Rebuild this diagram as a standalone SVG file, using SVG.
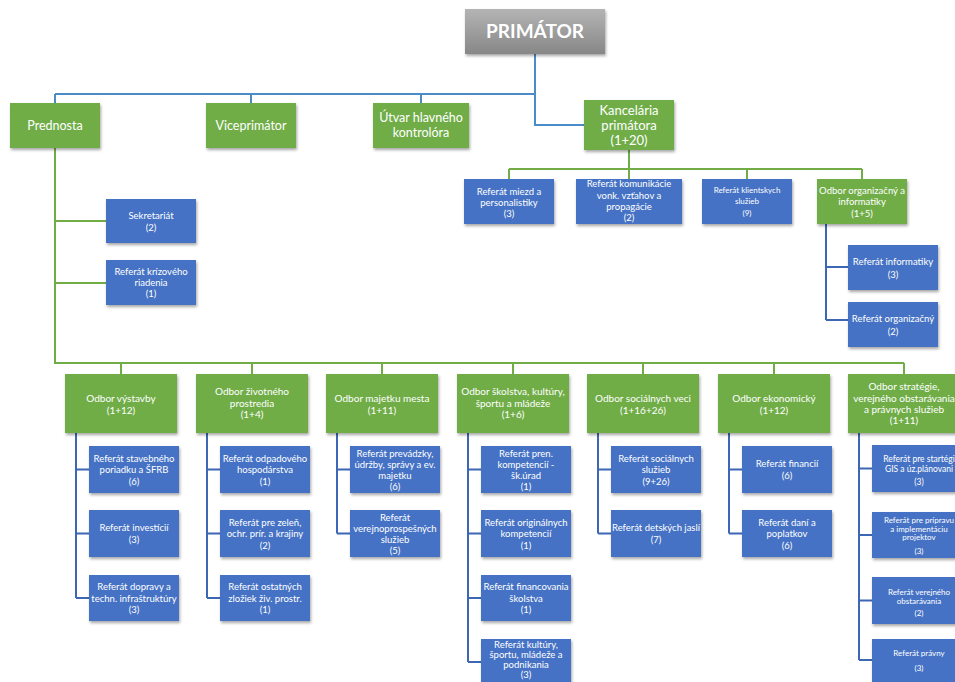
<svg xmlns="http://www.w3.org/2000/svg" width="955" height="682" viewBox="0 0 955 682">
<defs>
<linearGradient id="gray" x1="0" y1="0" x2="0" y2="1">
<stop offset="0" stop-color="#b4b4b4"/><stop offset="1" stop-color="#878787"/>
</linearGradient>
<filter id="sh" x="-10%" y="-10%" width="130%" height="140%">
<feDropShadow dx="1" dy="2" stdDeviation="1.5" flood-color="#000" flood-opacity="0.35"/>
</filter>
</defs>
<style>
.g{fill:#70ad47;filter:url(#sh)}
.b{fill:#4472c4;filter:url(#sh)}
.p{fill:url(#gray);filter:url(#sh)}
text{font-family:Lato,"Open Sans","Liberation Sans",sans-serif;fill:#fff;text-anchor:middle;font-size:9.5px}
.t1{font-size:12.5px}
.t2{font-size:13px}
.t3{font-size:10px}
.t4{font-size:8px}
.t5{font-size:8.5px}
.big{font-size:19px;font-weight:bold}
.cb{stroke:#4a8bc8;stroke-width:2;fill:none}
.cg{stroke:#70ad47;stroke-width:2;fill:none}
.cd{stroke:#3d66b5;stroke-width:2;fill:none}
</style>
<rect width="955" height="682" fill="#fff"/>
<g id="connectors">
<path class="cb" d="M535 54V94M55 94H535M55 94V103M251 94V103M421 94V103M535 94V125H584"/>
<path class="cg" d="M55 148V363H904M55 221H106M55 283H106"/>
<path class="cg" d="M121 363V374M252 363V374M382 363V374M513 363V374M643 363V374M774 363V374M904 363V374"/>
<path class="cg" d="M629 150V169M509 169H862M509 169V179M629 169V179M747 169V179M862 169V179"/>
<path class="cd" d="M826 224V320M826 267H848M826 320H848"/>
<path class="cd" d="M76 433V598M76 469.5H89M76 533.5H89M76 598H89"/>
<path class="cd" d="M207 433V598M207 469.5H220M207 533.5H220M207 598H220"/>
<path class="cd" d="M337 433V533.5M337 469.5H350M337 533.5H350"/>
<path class="cd" d="M468 433V662M468 469.5H481M468 533.5H481M468 598H481M468 662H481"/>
<path class="cd" d="M598 433V533.5M598 469.5H611M598 533.5H611"/>
<path class="cd" d="M729 433V533.5M729 469.5H742M729 533.5H742"/>
<path class="cd" d="M859 433V660M859 468.5H872M859 535H872M859 600.5H872M859 660H872"/>
</g>
<g id="primator"><rect class="p" x="465" y="9" width="140" height="45"/><text class="big" x="535" y="38">PRIMÁTOR</text></g>
<g id="prednosta"><rect class="g" x="10" y="103" width="90" height="45"/><text class="t1" x="55" y="130">Prednosta</text></g>
<g id="viceprimator"><rect class="g" x="206" y="103" width="90" height="45"/><text class="t1" x="251" y="130">Viceprimátor</text></g>
<g id="utvar"><rect class="g" x="373" y="103" width="96" height="45"/><text class="t1" x="421" y="122">Útvar hlavného</text><text class="t1" x="421" y="137">kontrolóra</text></g>
<g id="kancelaria"><rect class="g" x="584" y="100" width="90" height="50"/><text class="t2" x="629" y="115">Kancelária</text><text class="t2" x="629" y="130">primátora</text><text class="t2" x="629" y="145">(1+20)</text></g>
<g id="ref-miezd"><rect class="b" x="464" y="179" width="90" height="45"/><text x="509" y="194.5">Referát miezd a</text><text x="509" y="205.5">personalistiky</text><text x="509" y="216.5">(3)</text></g>
<g id="ref-komunikacie"><rect class="b" x="576" y="179" width="106" height="45"/><text x="629" y="187">Referát komunikácie</text><text x="629" y="198.5">vonk. vzťahov a</text><text x="629" y="210">propagácie</text><text x="629" y="221">(2)</text></g>
<g id="ref-klient"><rect class="b" x="702" y="179" width="90" height="45"/><text class="t4" x="747" y="193">Referát klientskych</text><text class="t4" x="747" y="203.5">služieb</text><text class="t4" x="747" y="216">(9)</text></g>
<g id="odbor-org"><rect class="g" x="817" y="179" width="90" height="45"/><text x="862" y="193.5">Odbor organizačný a</text><text x="862" y="205">informatiky</text><text x="862" y="216.5">(1+5)</text></g>
<g id="ref-informatiky"><rect class="b" x="848" y="245" width="90" height="45"/><text x="893" y="265">Referát informatiky</text><text x="893" y="278">(3)</text></g>
<g id="ref-organizacny"><rect class="b" x="848" y="302" width="90" height="45"/><text x="893" y="322">Referát organizačný</text><text x="893" y="335">(2)</text></g>
<g id="sekretariat"><rect class="b" x="106" y="199" width="90" height="44"/><text x="151" y="219">Sekretariát</text><text x="151" y="230.5">(2)</text></g>
<g id="ref-krizoveho"><rect class="b" x="106" y="260" width="90" height="45"/><text x="151" y="275">Referát krízového</text><text x="151" y="286">riadenia</text><text x="151" y="297">(1)</text></g>
<g id="odbor-vystavby"><rect class="g" x="65" y="374" width="112" height="59"/><text class="t3" x="121" y="401.5">Odbor výstavby</text><text class="t3" x="121" y="413.5">(1+12)</text></g>
<g id="odbor-zivotneho"><rect class="g" x="196" y="374" width="112" height="59"/><text class="t3" x="252" y="395">Odbor životného</text><text class="t3" x="252" y="406.5">prostredia</text><text class="t3" x="252" y="418">(1+4)</text></g>
<g id="odbor-majetku"><rect class="g" x="326" y="374" width="112" height="59"/><text class="t3" x="382" y="401.5">Odbor majetku mesta</text><text class="t3" x="382" y="413.5">(1+11)</text></g>
<g id="odbor-skolstva"><rect class="g" x="457" y="374" width="112" height="59"/><text class="t3" x="513" y="395">Odbor školstva, kultúry,</text><text class="t3" x="513" y="406.5">športu a mládeže</text><text class="t3" x="513" y="418">(1+6)</text></g>
<g id="odbor-socialnych"><rect class="g" x="587" y="374" width="112" height="59"/><text class="t3" x="643" y="401.5">Odbor sociálnych veci</text><text class="t3" x="643" y="413.5">(1+16+26)</text></g>
<g id="odbor-ekonomicky"><rect class="g" x="718" y="374" width="112" height="59"/><text class="t3" x="774" y="401.5">Odbor ekonomický</text><text class="t3" x="774" y="413.5">(1+12)</text></g>
<g id="odbor-strategie"><rect class="g" x="848" y="374" width="112" height="59"/><text class="t3" x="904" y="390">Odbor stratégie,</text><text class="t3" x="904" y="401.5">verejného obstarávania</text><text class="t3" x="904" y="412.5">a právnych služieb</text><text class="t3" x="904" y="424">(1+11)</text></g>
<g id="ref-stavebneho"><rect class="b" x="89" y="446" width="90" height="47"/><text x="134" y="461.5">Referát stavebného</text><text x="134" y="473">poriadku a ŠFRB</text><text x="134" y="484.5">(6)</text></g>
<g id="ref-investicii"><rect class="b" x="89" y="510" width="90" height="47"/><text x="134" y="531.25">Referát investícií</text><text x="134" y="542.75">(3)</text></g>
<g id="ref-dopravy"><rect class="b" x="89" y="575" width="90" height="46"/><text x="134" y="590">Referát dopravy a</text><text x="134" y="601.5">techn. infraštruktúry</text><text x="134" y="613">(3)</text></g>
<g id="ref-odpadoveho"><rect class="b" x="220" y="446" width="90" height="47"/><text x="265" y="461.5">Referát odpadového</text><text x="265" y="473">hospodárstva</text><text x="265" y="484.5">(1)</text></g>
<g id="ref-zelen"><rect class="b" x="220" y="510" width="90" height="47"/><text x="265" y="525.5">Referát pre zeleň,</text><text x="265" y="537">ochr. prír. a krajiny</text><text x="265" y="548.5">(2)</text></g>
<g id="ref-ostatnych"><rect class="b" x="220" y="575" width="90" height="46"/><text x="265" y="590">Referát ostatných</text><text x="265" y="601.5">zložiek živ. prostr.</text><text x="265" y="613">(1)</text></g>
<g id="ref-prevadzky"><rect class="b" x="350" y="446" width="90" height="47"/><text x="395" y="456.5">Referát prevádzky,</text><text x="395" y="467.5">údržby, správy a ev.</text><text x="395" y="478.5">majetku</text><text x="395" y="489.5">(6)</text></g>
<g id="ref-verejnoprospesnych"><rect class="b" x="350" y="510" width="90" height="47"/><text x="395" y="520.5">Referát</text><text x="395" y="531.5">verejnoprospešných</text><text x="395" y="542.5">služieb</text><text x="395" y="553.5">(5)</text></g>
<g id="ref-pren"><rect class="b" x="481" y="446" width="90" height="47"/><text x="526" y="456.5">Referát pren.</text><text x="526" y="467.5">kompetencií -</text><text x="526" y="478.5">šk.úrad</text><text x="526" y="489.5">(1)</text></g>
<g id="ref-originalnych"><rect class="b" x="481" y="510" width="90" height="47"/><text x="526" y="525.5">Referát originálnych</text><text x="526" y="537">kompetencií</text><text x="526" y="548.5">(1)</text></g>
<g id="ref-financovania"><rect class="b" x="481" y="575" width="90" height="46"/><text x="526" y="590">Referát financovania</text><text x="526" y="601.5">školstva</text><text x="526" y="613">(1)</text></g>
<g id="ref-kultury"><rect class="b" x="481" y="639" width="90" height="46"/><text x="526" y="648">Referát kultúry,</text><text x="526" y="658">športu, mládeže a</text><text x="526" y="668">podnikania</text><text x="526" y="678">(3)</text></g>
<g id="ref-socialnych"><rect class="b" x="611" y="446" width="90" height="47"/><text x="656" y="461.5">Referát sociálnych</text><text x="656" y="473">služieb</text><text x="656" y="484.5">(9+26)</text></g>
<g id="ref-jasli"><rect class="b" x="611" y="510" width="90" height="47"/><text x="656" y="531.25">Referát detských jaslí</text><text x="656" y="542.75">(7)</text></g>
<g id="ref-financii"><rect class="b" x="742" y="446" width="90" height="47"/><text x="787" y="467.25">Referát financií</text><text x="787" y="478.75">(6)</text></g>
<g id="ref-dani"><rect class="b" x="742" y="510" width="90" height="47"/><text x="787" y="525.5">Referát daní a</text><text x="787" y="537">poplatkov</text><text x="787" y="548.5">(6)</text></g>
<g id="ref-strategiu"><rect class="b" x="872" y="445" width="100" height="47"/><text class="t5" x="919" y="461.5">Referát pre startégi</text><text class="t5" x="919" y="471.5">GIS a úz.plánovani</text><text class="t5" x="919" y="484.5">(3)</text></g>
<g id="ref-pripravu"><rect class="b" x="872" y="512" width="100" height="46"/><text class="t4" x="919" y="523">Referát pre prípravu</text><text class="t4" x="919" y="531.5">a implementáciu</text><text class="t4" x="919" y="540">projektov</text><text class="t4" x="919" y="554">(3)</text></g>
<g id="ref-obstaravania"><rect class="b" x="872" y="577" width="100" height="47"/><text class="t4" x="919" y="595">Referát verejného</text><text class="t4" x="919" y="603.5">obstarávania</text><text class="t4" x="919" y="616">(2)</text></g>
<g id="ref-pravny"><rect class="b" x="872" y="639" width="100" height="46"/><text class="t4" x="919" y="656">Referát právny</text><text class="t4" x="919" y="671">(3)</text></g>
</svg>
